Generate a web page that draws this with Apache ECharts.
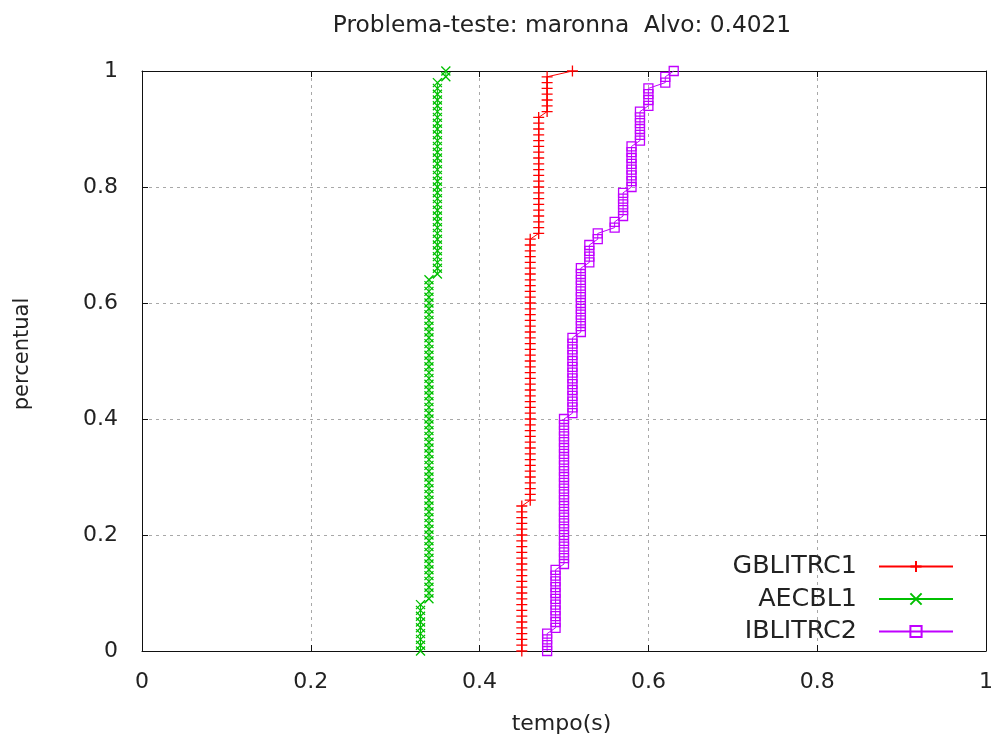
<!DOCTYPE html>
<html>
<head>
<meta charset="utf-8">
<script src="https://cdn.jsdelivr.net/npm/echarts@6/dist/echarts.min.js"></script>
<style>
html,body{margin:0;padding:0;background:#fff;}
#chart{width:997px;height:744px;}
</style>
</head>
<body>
<div id="chart"></div>
<script>
// Sorted run times (s) per algorithm; percentile = rank / (n - 1)
const tempoGBLITRC1 = [
  0.45,0.45,0.45,0.45,0.45,0.45,0.45,0.45,0.45,0.45,
  0.45,0.45,0.45,0.45,0.45,0.45,0.45,0.45,0.45,0.45,
  0.45,0.45,0.45,0.45,0.45,0.45,
  0.46,0.46,0.46,0.46,0.46,0.46,0.46,0.46,0.46,0.46,
  0.46,0.46,0.46,0.46,0.46,0.46,0.46,0.46,0.46,0.46,
  0.46,0.46,0.46,0.46,0.46,0.46,0.46,0.46,0.46,0.46,
  0.46,0.46,0.46,0.46,0.46,0.46,0.46,0.46,0.46,0.46,
  0.46,0.46,0.46,0.46,0.46,0.46,
  0.47,0.47,0.47,0.47,0.47,0.47,0.47,0.47,0.47,0.47,
  0.47,0.47,0.47,0.47,0.47,0.47,0.47,0.47,0.47,0.47,
  0.47,
  0.48,0.48,0.48,0.48,0.48,0.48,0.48,
  0.51
];
const tempoAECBL1 = [
  0.33,0.33,0.33,0.33,0.33,0.33,0.33,0.33,0.33,
  0.34,0.34,0.34,0.34,0.34,0.34,0.34,0.34,0.34,0.34,
  0.34,0.34,0.34,0.34,0.34,0.34,0.34,0.34,0.34,0.34,
  0.34,0.34,0.34,0.34,0.34,0.34,0.34,0.34,0.34,0.34,
  0.34,0.34,0.34,0.34,0.34,0.34,0.34,0.34,0.34,0.34,
  0.34,0.34,0.34,0.34,0.34,0.34,0.34,0.34,0.34,0.34,
  0.34,0.34,0.34,0.34,0.34,0.34,
  0.35,0.35,0.35,0.35,0.35,0.35,0.35,0.35,0.35,0.35,
  0.35,0.35,0.35,0.35,0.35,0.35,0.35,0.35,0.35,0.35,
  0.35,0.35,0.35,0.35,0.35,0.35,0.35,0.35,0.35,0.35,
  0.35,0.35,0.35,0.35,
  0.36,0.36
];
const tempoIBLITRC2 = [
  0.48,0.48,0.48,0.48,
  0.49,0.49,0.49,0.49,0.49,0.49,0.49,0.49,0.49,0.49,0.49,
  0.50,0.50,0.50,0.50,0.50,0.50,0.50,0.50,0.50,0.50,
  0.50,0.50,0.50,0.50,0.50,0.50,0.50,0.50,0.50,0.50,
  0.50,0.50,0.50,0.50,0.50,0.50,
  0.51,0.51,0.51,0.51,0.51,0.51,0.51,0.51,0.51,0.51,0.51,0.51,0.51,0.51,
  0.52,0.52,0.52,0.52,0.52,0.52,0.52,0.52,0.52,0.52,0.52,0.52,
  0.53,0.53,0.53,0.53,
  0.54,0.54,
  0.56,0.56,
  0.57,0.57,0.57,0.57,0.57,
  0.58,0.58,0.58,0.58,0.58,0.58,0.58,0.58,
  0.59,0.59,0.59,0.59,0.59,0.59,
  0.60,0.60,0.60,0.60,
  0.62,0.62,
  0.63
];
const seriesNames = ['GBLITRC1', 'AECBL1', 'IBLITRC2'];
const titleText = 'Problema-teste: maronna  Alvo: 0.4021';
const xTicks = [0, 0.2, 0.4, 0.6, 0.8, 1];
const yTicks = [0, 0.2, 0.4, 0.6, 0.8, 1];

function toPoints(times) {
  const n = times.length;
  return times.map((t, i) => [t, i / (n - 1)]);
}

const FONT = '"DejaVu Sans", sans-serif';
const plusPath = 'path://M0,5L10,5M5,0L5,10';
const crossPath = 'path://M0,0L10,10M0,10L10,0';
const squarePath = 'path://M0,0L10,0L10,10L0,10Z';

function mkSeries(name, times, color, symbol, size) {
  return {
    name: name,
    type: 'line',
    data: toPoints(times),
    symbol: symbol,
    symbolSize: size,
    showAllSymbol: true,
    animation: false,
    lineStyle: { color: color, width: 1 },
    itemStyle: { color: 'rgba(0,0,0,0)', borderColor: color, borderWidth: 1.3 },
    emphasis: { disabled: true }
  };
}

const chart = echarts.init(document.getElementById('chart'), null, { renderer: 'canvas' });
const axisLineStyle = { show: true, onZero: false, lineStyle: { color: '#111', width: 1 } };
const tickStyle = { show: true, inside: false, length: -6, lineStyle: { color: '#111' } };
chart.setOption({
  backgroundColor: '#fff',
  animation: false,
  textStyle: { fontFamily: FONT },
  title: {
    text: titleText,
    left: 557, top: 9, textAlign: 'center',
    textStyle: { fontFamily: FONT, fontSize: 23.3, fontWeight: 'normal', color: '#222' }
  },
  grid: { left: 142, right: 11, top: 71, bottom: 93 },
  legend: {
    data: seriesNames,
    orient: 'vertical',
    right: 43, top: 554,
    align: 'right',
    padding: 0,
    itemWidth: 74, itemHeight: 14, itemGap: 7.5,
    textStyle: { fontFamily: FONT, fontSize: 25.4, lineHeight: 25, color: '#222', padding: [0, 17, 0, 0] }
  },
  xAxis: [{
    type: 'value', min: 0, max: 1, interval: 0.2, position: 'bottom',
    name: 'tempo(s)', nameLocation: 'middle', nameGap: 62,
    nameTextStyle: { fontFamily: FONT, fontSize: 22, color: '#222', padding: [0, 5, 0, 0] },
    axisLine: axisLineStyle,
    axisTick: tickStyle,
    axisLabel: { fontFamily: FONT, fontSize: 22, color: '#222', margin: 20,
      formatter: v => String(xTicks.find(t => Math.abs(t - v) < 1e-9) ?? v) },
    splitLine: { show: true, lineStyle: { color: '#a8a8a8', type: [3, 4], width: 1 } }
  }, {
    type: 'value', min: 0, max: 1, interval: 0.2, position: 'top',
    axisLine: axisLineStyle,
    axisTick: tickStyle,
    axisLabel: { show: false }, splitLine: { show: false }
  }],
  yAxis: [{
    type: 'value', min: 0, max: 1, interval: 0.2, position: 'left',
    name: 'percentual', nameLocation: 'middle', nameGap: 109, nameRotate: 90,
    nameTextStyle: { fontFamily: FONT, fontSize: 21, color: '#222', padding: [0, 0, 0, 14] },
    axisLine: axisLineStyle,
    axisTick: tickStyle,
    axisLabel: { fontFamily: FONT, fontSize: 22, color: '#222', margin: 24,
      formatter: v => String(yTicks.find(t => Math.abs(t - v) < 1e-9) ?? v) },
    splitLine: { show: true, lineStyle: { color: '#a8a8a8', type: [3, 4], width: 1 } }
  }, {
    type: 'value', min: 0, max: 1, interval: 0.2, position: 'right',
    axisLine: axisLineStyle,
    axisTick: tickStyle,
    axisLabel: { show: false }, splitLine: { show: false }
  }],
  series: [
    mkSeries(seriesNames[0], tempoGBLITRC1, '#ff0000', plusPath, 11),
    mkSeries(seriesNames[1], tempoAECBL1, '#00c000', crossPath, 9),
    mkSeries(seriesNames[2], tempoIBLITRC2, '#c000ff', squarePath, 9)
  ]
});
</script>
</body>
</html>
